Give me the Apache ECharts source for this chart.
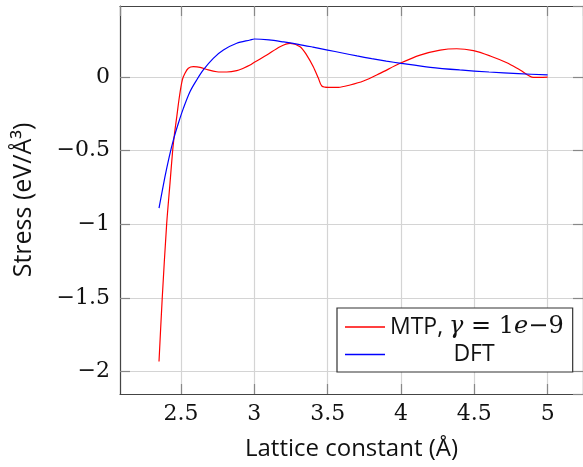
<!DOCTYPE html>
<html>
<head>
<meta charset="utf-8">
<script src="https://cdn.jsdelivr.net/npm/echarts@6/dist/echarts.min.js"></script>
<style>html,body{margin:0;padding:0;background:#fff}#c{width:583px;height:467px}</style>
</head>
<body>
<div id="c"></div>
<script>
// MTP (gamma = 1e-9) stress vs lattice constant
var mtpX = [2.35, 2.372, 2.402, 2.425, 2.443, 2.455, 2.471, 2.489, 2.509, 2.527, 2.55, 2.584, 2.63, 2.686, 2.744, 2.812, 2.88, 2.925, 2.971, 3.0, 3.085, 3.175, 3.244, 3.312, 3.357, 3.402, 3.437, 3.46, 3.505, 3.573, 3.653, 3.744, 3.857, 3.994, 4.13, 4.267, 4.38, 4.494, 4.608, 4.722, 4.812, 4.903, 5.0];
var mtpY = [-1.93, -1.5, -1.0, -0.72, -0.5, -0.39, -0.27, -0.134, -0.02, 0.025, 0.059, 0.07, 0.066, 0.048, 0.036, 0.034, 0.043, 0.06, 0.081, 0.1, 0.149, 0.206, 0.229, 0.206, 0.149, 0.07, -0.009, -0.061, -0.07, -0.07, -0.054, -0.027, 0.025, 0.093, 0.149, 0.183, 0.192, 0.179, 0.143, 0.097, 0.048, -0.002, 0.0];
// DFT reference
var dftX = [2.35, 2.39, 2.42, 2.45, 2.482, 2.516, 2.561, 2.607, 2.652, 2.72, 2.789, 2.88, 2.971, 3.0, 3.1, 3.2, 3.3, 3.4, 3.5, 3.6, 3.7, 3.8, 3.9, 4.0, 4.2, 4.4, 4.6, 4.8, 5.0];
var dftY = [-0.89, -0.68, -0.54, -0.42, -0.314, -0.213, -0.1, -0.02, 0.048, 0.127, 0.183, 0.229, 0.251, 0.258, 0.252, 0.238, 0.222, 0.203, 0.183, 0.163, 0.143, 0.125, 0.108, 0.093, 0.066, 0.048, 0.034, 0.023, 0.014];
var xLimits = [2.084, 5.241];
var yLimits = [-2.151, 0.482];
var seriesNames = ['MTP', 'DFT'];

function pairs(xs, ys) { return xs.map(function (x, i) { return [x, ys[i]]; }); }
function fmtNum(v) { return String(+v.toFixed(2)).replace('-', '\u2212'); }

var serif = 'DejaVu Serif';
var sans = 'Open Sans';
var axisCol = '#444';
var gridCol = '#d4d4d4';
var tickCol = '#888';

var chart = echarts.init(document.getElementById('c'), null, {renderer: 'canvas'});
function frameAxis(extra) {
  var base = {
    type: 'value',
    axisLine: {show: true, onZero: false, lineStyle: {color: axisCol, width: 1.2}},
    axisTick: {show: true, inside: true, length: 10, lineStyle: {color: tickCol, width: 1.2}}
  };
  for (var k in extra) base[k] = extra[k];
  return base;
}
chart.setOption({
  animation: false,
  backgroundColor: '#fff',
  grid: {left: 120, top: 6, right: -1, bottom: 73, containLabel: false},
  xAxis: [frameAxis({
    min: xLimits[0], max: xLimits[1], position: 'bottom',
    splitLine: {show: true, lineStyle: {color: gridCol, width: 1.2}},
    axisLabel: {show: true, showMinLabel: false, showMaxLabel: false, margin: 9, color: '#111', fontFamily: serif, fontSize: 22, formatter: fmtNum},
    name: 'Lattice constant (\u00C5)', nameLocation: 'middle', nameGap: 43,
    nameTextStyle: {fontFamily: sans, fontSize: 24, color: '#111'}
  }), frameAxis({
    min: xLimits[0], max: xLimits[1], position: 'top',
    splitLine: {show: false}, axisLabel: {show: false}
  })],
  yAxis: [frameAxis({
    min: yLimits[0], max: yLimits[1], position: 'left',
    splitLine: {show: true, lineStyle: {color: gridCol, width: 1.2}},
    axisLabel: {show: true, showMinLabel: false, showMaxLabel: false, margin: 10, color: '#111', fontFamily: serif, fontSize: 22, formatter: fmtNum},
    name: 'Stress (eV/\u00C5\u00B3)', nameLocation: 'middle', nameGap: 84, nameRotate: 90,
    nameTextStyle: {fontFamily: sans, fontSize: 25, color: '#111'}
  }), frameAxis({
    min: yLimits[0], max: yLimits[1], position: 'right',
    splitLine: {show: false}, axisLabel: {show: false}
  })],
  legend: {
    left: 337, top: 308, orient: 'vertical',
    backgroundColor: '#fff', borderColor: '#333', borderWidth: 1.2, borderRadius: 0,
    padding: [7, 9, 6, 8], itemGap: 4, itemWidth: 40, itemHeight: 1.4,
    selectedMode: false,
    data: [{name: seriesNames[0], icon: 'rect'}, {name: seriesNames[1], icon: 'rect'}],
    formatter: function (n) {
      if (n === 'MTP') return '{s|MTP, }{m|\u03B3}{r| = 1}{m|e}{r|\u22129}';
      return '{c|DFT}';
    },
    textStyle: {
      padding: [0, 0, 0, 0],
      rich: {
        s: {fontFamily: sans, fontSize: 23, color: '#111', lineHeight: 28},
        m: {fontFamily: serif, fontStyle: 'italic', fontSize: 24, color: '#111', lineHeight: 28},
        r: {fontFamily: serif, fontSize: 24, color: '#111', lineHeight: 28},
        c: {fontFamily: sans, fontSize: 23, color: '#111', lineHeight: 28, width: 168, align: 'center'}
      }
    }
  },
  series: [{
    name: seriesNames[0], type: 'line', data: pairs(mtpX, mtpY),
    showSymbol: false, smooth: 0.3, clip: true,
    lineStyle: {color: '#ff0000', width: 1.2}, itemStyle: {color: '#ff0000'}
  }, {
    name: seriesNames[1], type: 'line', data: pairs(dftX, dftY),
    showSymbol: false, smooth: 0.3, clip: true,
    lineStyle: {color: '#0000ff', width: 1.2}, itemStyle: {color: '#0000ff'}
  }]
});
</script>
</body>
</html>
